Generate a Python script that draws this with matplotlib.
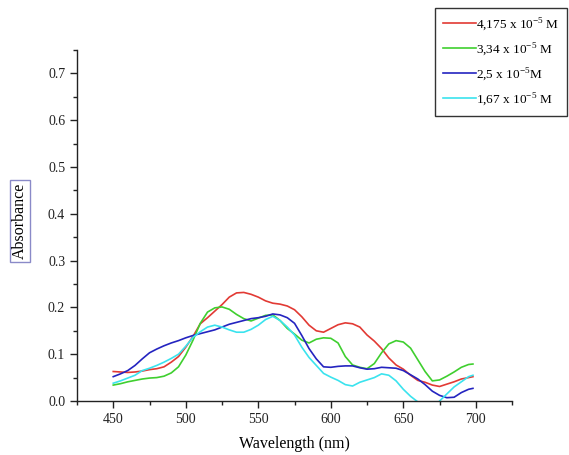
import numpy as np
import matplotlib
matplotlib.use("Agg")
import matplotlib.pyplot as plt
from matplotlib.ticker import MultipleLocator

plt.rcParams['font.family'] = ['Liberation Serif', 'DejaVu Serif']
plt.rcParams['mathtext.fontset'] = 'custom'
plt.rcParams['mathtext.rm'] = 'Liberation Serif'

# espectros UV-Vis, absorbancia vs longitud de onda (nm)
wl = [450, 455, 460, 465, 470, 475, 480, 485, 490, 495,
      500, 505, 510, 515, 520, 525, 530, 535, 540, 545,
      550, 555, 560, 565, 570, 575, 580, 585, 590, 595,
      600, 605, 610, 615, 620, 625, 630, 635, 640, 645,
      650, 655, 660, 665, 670, 675, 680, 685, 690, 695, 698]

abs_4175 = [0.063, 0.062, 0.061, 0.062, 0.064, 0.067, 0.069, 0.073, 0.083, 0.095,
            0.115, 0.138, 0.165, 0.178, 0.192, 0.206, 0.222, 0.231, 0.232, 0.228,
            0.222, 0.214, 0.209, 0.207, 0.203, 0.195, 0.180, 0.162, 0.150, 0.147,
            0.155, 0.163, 0.167, 0.165, 0.158, 0.141, 0.128, 0.112, 0.092, 0.077,
            0.068, 0.055, 0.044, 0.040, 0.034, 0.031, 0.036, 0.041, 0.047, 0.050, 0.052]

abs_334 = [0.034, 0.037, 0.041, 0.044, 0.047, 0.049, 0.050, 0.053, 0.060, 0.073,
           0.098, 0.130, 0.166, 0.190, 0.199, 0.201, 0.196, 0.185, 0.176, 0.171,
           0.177, 0.183, 0.184, 0.172, 0.155, 0.143, 0.130, 0.124, 0.132, 0.135,
           0.134, 0.124, 0.095, 0.077, 0.072, 0.069, 0.080, 0.103, 0.122, 0.129,
           0.126, 0.113, 0.088, 0.063, 0.043, 0.045, 0.053, 0.062, 0.072, 0.078, 0.079]

abs_25 = [0.052, 0.058, 0.065, 0.076, 0.090, 0.103, 0.111, 0.118, 0.124, 0.129,
          0.135, 0.140, 0.144, 0.148, 0.152, 0.158, 0.164, 0.168, 0.172, 0.176,
          0.178, 0.181, 0.186, 0.184, 0.178, 0.166, 0.140, 0.112, 0.090, 0.073,
          0.072, 0.074, 0.075, 0.075, 0.071, 0.068, 0.069, 0.072, 0.071, 0.070,
          0.065, 0.056, 0.047, 0.035, 0.021, 0.012, 0.007, 0.008, 0.018, 0.025, 0.027]

abs_167 = [0.038, 0.043, 0.049, 0.055, 0.065, 0.070, 0.076, 0.083, 0.091, 0.100,
           0.117, 0.136, 0.148, 0.158, 0.162, 0.158, 0.152, 0.147, 0.147, 0.153,
           0.162, 0.174, 0.181, 0.172, 0.158, 0.141, 0.115, 0.093, 0.076, 0.059,
           0.051, 0.044, 0.035, 0.032, 0.040, 0.045, 0.050, 0.058, 0.055, 0.043,
           0.025, 0.010, -0.002, -0.020, -0.020, 0.000, 0.015, 0.030, 0.041, 0.052, 0.055]

etiquetas = [r'4,175 x 10$^{\mathregular{-5}}$ M',
             r'3,34 x 10$^{\mathregular{-5}}$ M',
             r'2,5 x 10$^{\mathregular{-5}}$M',
             r'1,67 x 10$^{\mathregular{-5}}$ M']
colores = ['#e23a34', '#3fcf2f', '#2424c0', '#3be3ee']

fig = plt.figure(figsize=(5.69, 4.55), dpi=100)
ax = fig.add_axes([0.1353, 0.1187, 0.7647, 0.7713])

for serie, lab, col in zip([abs_4175, abs_334, abs_25, abs_167], etiquetas, colores):
    ax.plot(wl, serie, color=col, lw=1.2, label=lab)

ax.set_xlim(425, 725)
ax.set_ylim(0, 0.75)
ax.xaxis.set_major_locator(MultipleLocator(50))
ax.xaxis.set_minor_locator(MultipleLocator(25))
ax.yaxis.set_major_locator(MultipleLocator(0.1))
ax.yaxis.set_minor_locator(MultipleLocator(0.05))
ax.set_xticks([450, 500, 550, 600, 650, 700])
ax.set_yticks(np.arange(0, 0.71, 0.1))
ax.set_yticklabels(['%.1f' % v for v in np.arange(0, 0.71, 0.1)])

for lado in ['top', 'right']:
    ax.spines[lado].set_visible(False)
for lado in ['left', 'bottom']:
    ax.spines[lado].set_linewidth(1.0)
    ax.spines[lado].set_color('#222222')
ax.tick_params(which='major', direction='out', length=5, width=1, labelsize=10, colors='#222222')
ax.tick_params(which='minor', direction='out', length=3, width=1, colors='#222222')

ax.set_xlabel('Wavelength (nm)', fontsize=11.5, labelpad=7)
fig.text(20 / 569, 1 - 221 / 455, 'Absorbance', rotation=90, fontsize=11.5,
         ha='center', va='center',
         bbox=dict(boxstyle='square,pad=0.15', fc='white', ec='#8a8ac8', lw=1))

leg = fig.legend(loc='upper left', bbox_to_anchor=(435 / 569, 1 - 8 / 455),
                 fontsize=9.5, frameon=True, fancybox=False, framealpha=1,
                 edgecolor='#333333', handlelength=2.5, handletextpad=0.0,
                 labelspacing=0.62, borderpad=0.6, borderaxespad=0)
leg.get_frame().set_linewidth(1.0)

fig.savefig('out.png', dpi=100)
